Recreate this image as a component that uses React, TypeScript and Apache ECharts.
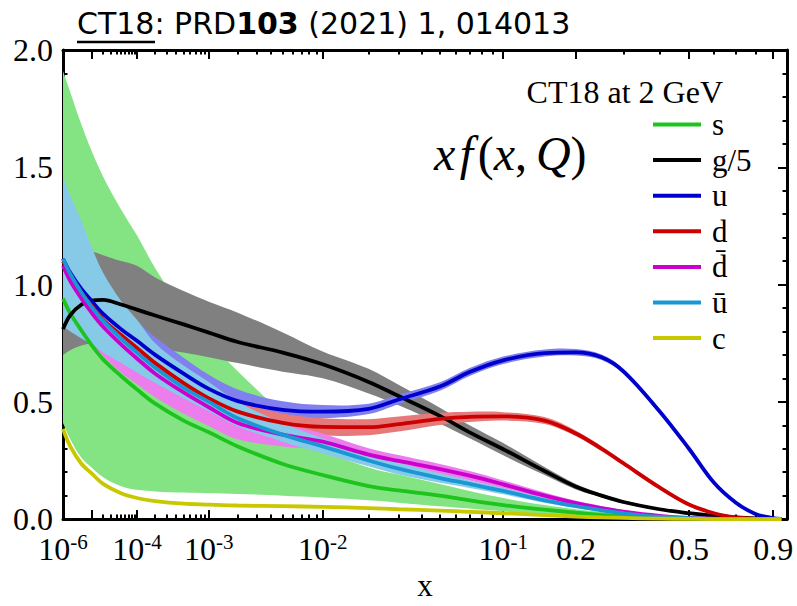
import React, { useEffect, useRef } from 'react';
import * as echarts from 'echarts';

// ---------------- data ----------------
const xValues = [1e-6, 2e-6, 5e-6, 1e-5, 2e-5, 5e-5, 1e-4, 2e-4, 5e-4, 1e-3, 2e-3, 5e-3, 1e-2, 2e-2, 3e-2, 5e-2, 7e-2, 0.1, 0.15, 0.2, 0.25, 0.3, 0.4, 0.5, 0.6, 0.7, 0.8, 0.9, 0.95];

const sCentral = [0.94, 0.877, 0.803, 0.742, 0.681, 0.61, 0.553, 0.492, 0.42, 0.37, 0.31, 0.235, 0.188, 0.141, 0.122, 0.1, 0.08, 0.06, 0.04, 0.027, 0.018, 0.012, 0.005, 0.002, 0.001, 0, 0, 0, 0];
const sUpper = [1.91, 1.82, 1.68, 1.57, 1.46, 1.32, 1.21, 1.07, 0.89, 0.76, 0.63, 0.45, 0.3, 0.22, 0.19, 0.15, 0.12, 0.09, 0.06, 0.042, 0.03, 0.02, 0.009, 0.004, 0.002, 0.001, 0, 0, 0];
const sLower = [0.41, 0.34, 0.26, 0.22, 0.178, 0.14, 0.125, 0.118, 0.113, 0.11, 0.107, 0.1, 0.092, 0.08, 0.07, 0.055, 0.045, 0.033, 0.02, 0.013, 0.008, 0.005, 0.002, 0.001, 0, 0, 0, 0, 0];

const gCentral = [0.81, 0.87, 0.915, 0.932, 0.935, 0.915, 0.893, 0.868, 0.83, 0.795, 0.755, 0.71, 0.66, 0.585, 0.525, 0.44, 0.37, 0.298, 0.205, 0.138, 0.1, 0.073, 0.042, 0.025, 0.014, 0.007, 0.003, 0.001, 0];
const gUpper = [1.1, 1.12, 1.13, 1.14, 1.125, 1.1, 1.08, 1.03, 0.972, 0.927, 0.88, 0.796, 0.715, 0.641, 0.573, 0.475, 0.4, 0.324, 0.222, 0.15, 0.108, 0.079, 0.046, 0.028, 0.016, 0.008, 0.004, 0.001, 0];
const gLower = [0.7, 0.72, 0.74, 0.75, 0.75, 0.745, 0.74, 0.73, 0.71, 0.69, 0.665, 0.628, 0.6, 0.535, 0.485, 0.407, 0.345, 0.272, 0.188, 0.126, 0.092, 0.067, 0.038, 0.022, 0.012, 0.006, 0.002, 0.001, 0];

const uCentral = [1.11, 1.05, 0.98, 0.93, 0.875, 0.81, 0.76, 0.7, 0.62, 0.555, 0.503, 0.466, 0.458, 0.47, 0.51, 0.565, 0.627, 0.677, 0.708, 0.711, 0.69, 0.63, 0.46, 0.3, 0.155, 0.07, 0.022, 0.004, 0.001];
const uError = [0.15, 0.14, 0.12, 0.11, 0.1, 0.09, 0.082, 0.075, 0.068, 0.06, 0.05, 0.036, 0.028, 0.022, 0.02, 0.018, 0.017, 0.016, 0.015, 0.014, 0.012, 0.011, 0.009, 0.007, 0.005, 0.003, 0.002, 0.001, 0];

const dCentral = [1.1, 1.04, 0.965, 0.91, 0.85, 0.785, 0.73, 0.665, 0.58, 0.515, 0.458, 0.41, 0.393, 0.392, 0.405, 0.427, 0.436, 0.438, 0.42, 0.365, 0.3, 0.238, 0.135, 0.062, 0.025, 0.007, 0.001, 0, 0];
const dError = [0.12, 0.11, 0.1, 0.09, 0.085, 0.075, 0.07, 0.06, 0.055, 0.05, 0.045, 0.04, 0.037, 0.034, 0.032, 0.026, 0.022, 0.018, 0.015, 0.012, 0.011, 0.01, 0.008, 0.006, 0.004, 0.002, 0.001, 0, 0];

const dbarCentral = [1.08, 1.015, 0.94, 0.88, 0.82, 0.745, 0.685, 0.62, 0.54, 0.477, 0.41, 0.36, 0.33, 0.275, 0.248, 0.213, 0.185, 0.148, 0.1, 0.068, 0.047, 0.032, 0.014, 0.005, 0.002, 0, 0, 0, 0];
const dbarError = [0.14, 0.14, 0.13, 0.13, 0.125, 0.12, 0.11, 0.1, 0.09, 0.08, 0.07, 0.05, 0.035, 0.027, 0.025, 0.022, 0.02, 0.017, 0.013, 0.01, 0.008, 0.006, 0.003, 0.001, 0, 0, 0, 0, 0];

const ubarCentral = [1.11, 1.045, 0.965, 0.905, 0.845, 0.77, 0.71, 0.645, 0.56, 0.5, 0.43, 0.36, 0.31, 0.25, 0.215, 0.175, 0.15, 0.12, 0.08, 0.055, 0.037, 0.025, 0.01, 0.004, 0.001, 0, 0, 0, 0];
const ubarUpper = [1.46, 1.38, 1.27, 1.16, 1.05, 0.93, 0.85, 0.75, 0.655, 0.585, 0.5, 0.41, 0.345, 0.28, 0.24, 0.195, 0.165, 0.133, 0.09, 0.062, 0.042, 0.029, 0.012, 0.005, 0.002, 0.001, 0, 0, 0];
const ubarLower = [0.82, 0.8, 0.77, 0.745, 0.71, 0.665, 0.625, 0.58, 0.515, 0.46, 0.395, 0.33, 0.28, 0.225, 0.19, 0.155, 0.133, 0.106, 0.07, 0.048, 0.032, 0.021, 0.008, 0.003, 0.001, 0, 0, 0, 0];

const cCentral = [0.385, 0.31, 0.235, 0.195, 0.15, 0.11, 0.09, 0.077, 0.066, 0.062, 0.058, 0.055, 0.052, 0.047, 0.042, 0.036, 0.031, 0.025, 0.017, 0.011, 0.007, 0.005, 0.002, 0.001, 0, 0, 0, 0, 0];

const legendNames = ['s', 'g/5', 'u', 'd', 'd\u0304', '\u016b', 'c'];
const xMajorTicks = [1e-6, 1e-5, 1e-4, 1e-3, 1e-2, 0.1, 0.2, 0.5, 0.9];
const xLabelValues = [1e-6, 1e-4, 1e-3, 1e-2, 1e-1, 0.2, 0.5, 0.9];
const xTickLabels = ['10^-6', '10^-4', '10^-3', '10^-2', '10^-1', '0.2', '0.5', '0.9'];
const xMinorTicks = [2e-5, 3e-5, 4e-5, 5e-5, 6e-5, 7e-5, 8e-5, 9e-5, 2e-4, 3e-4, 4e-4, 5e-4, 6e-4, 7e-4, 8e-4, 9e-4, 2e-3, 3e-3, 4e-3, 5e-3, 6e-3, 7e-3, 8e-3, 9e-3, 2e-2, 3e-2, 4e-2, 5e-2, 6e-2, 7e-2, 8e-2, 9e-2, 0.3, 0.4, 0.6, 0.7, 0.8];
const yMinorTicks = [0.1, 0.2, 0.3, 0.4, 0.6, 0.7, 0.8, 0.9, 1.1, 1.2, 1.3, 1.4, 1.6, 1.7, 1.8, 1.9];

// ---------------- styling ----------------
const SERIF = 'Liberation Serif';
const SANS = 'DejaVu Sans';
const T = (x: number) => Math.pow(x, 0.2); // axis is linear in x^0.2
const X_MIN = T(1e-6);
const X_MAX = 0.997;

const colors = {
  s: '#1ec31e', sBand: '#84e484',
  g: '#000000', gBand: '#808080',
  u: '#0000cc', uBand: '#8080ee',
  d: '#cc0000', dBand: '#e67a7a',
  dbar: '#cc00cc', dbarBand: '#ec7dec',
  ubar: '#1a96d4', ubarBand: '#86cae8',
  c: '#c8c800',
};

function segs(pts: number[][], s: number): string {
  const n = pts.length;
  const outC: number[][] = [];
  const inC: number[][] = [];
  for (let i = 0; i < n; i++) {
    const p = pts[i];
    const prev = pts[Math.max(i - 1, 0)];
    const next = pts[Math.min(i + 1, n - 1)];
    const vx = next[0] - prev[0];
    const vy = next[1] - prev[1];
    const d0 = Math.hypot(p[0] - prev[0], p[1] - prev[1]);
    const d1 = Math.hypot(next[0] - p[0], next[1] - p[1]);
    const sum = d0 + d1 || 1;
    outC.push([p[0] + (vx * s * d1) / sum, p[1] + (vy * s * d1) / sum]);
    inC.push([p[0] - (vx * s * d0) / sum, p[1] - (vy * s * d0) / sum]);
  }
  let d = '';
  for (let i = 0; i < n - 1; i++) {
    d += ` C${outC[i][0]},${outC[i][1]} ${inC[i + 1][0]},${inC[i + 1][1]} ${pts[i + 1][0]},${pts[i + 1][1]}`;
  }
  return d;
}

function bandSeries(name: string, lo: number[], hi: number[], color: string) {
  return {
    type: 'custom',
    name,
    coordinateSystem: 'cartesian2d',
    xAxisIndex: 0,
    yAxisIndex: 0,
    silent: true,
    data: xValues.map((x, i) => [T(x), lo[i], hi[i]]),
    encode: { x: 0, y: [1, 2] },
    renderItem: (params: any, api: any) => {
      if (params.dataIndex !== 0) return null;
      const up = xValues.map((x, i) => api.coord([T(x), hi[i]]));
      const dn = xValues.map((x, i) => api.coord([T(x), lo[i]])).reverse();
      const d = `M${up[0][0]},${up[0][1]}` + segs(up, 0.35) + ` L${dn[0][0]},${dn[0][1]}` + segs(dn, 0.35) + ' Z';
      return { type: 'path', shape: { pathData: d }, style: { fill: color, stroke: null } };
    },
  };
}

function lineSeries(name: string, vals: number[], color: string) {
  return {
    type: 'line',
    name,
    xAxisIndex: 0,
    yAxisIndex: 0,
    data: xValues.map((x, i) => [T(x), vals[i]]),
    showSymbol: false,
    symbol: 'none',
    smooth: 0.35,
    color,
    itemStyle: { color },
    lineStyle: { color, width: 3.8 },
    silent: true,
  };
}

const plus = (a: number[], b: number[]) => a.map((v, i) => v + b[i]);
const minus = (a: number[], b: number[]) => a.map((v, i) => Math.max(0, v - b[i]));

function xLabel(value: number) {
  const i = xLabelValues.findIndex((x) => Math.abs(T(x) - value) < 1e-6);
  if (i < 0) return '';
  const s = xTickLabels[i];
  if (s.includes('^')) {
    const [base, exp] = s.split('^');
    return `{b|${base}}{e|${exp}}`;
  }
  return `{b|${s}}`;
}

const axisLineStyle = { show: true, onZero: false, lineStyle: { color: '#000', width: 3 } };
const noLine = { show: false, onZero: false };

function xAxisDef(position: string, ticks: number[], len: number, major: boolean, labels: boolean) {
  return {
    type: 'value',
    position,
    min: X_MIN,
    max: X_MAX,
    axisLine: major ? axisLineStyle : noLine,
    splitLine: { show: false },
    axisTick: { show: true, inside: true, length: len, customValues: ticks.map(T), lineStyle: { color: '#000', width: 2 } },
    axisLabel: labels
      ? {
          show: true,
          customValues: xLabelValues.map(T),
          formatter: xLabel,
          margin: 12,
          rich: {
            b: { fontFamily: SERIF, fontSize: 32, color: '#000', lineHeight: 36 },
            e: { fontFamily: SERIF, fontSize: 21, color: '#000', lineHeight: 16, verticalAlign: 'top' },
          },
        }
      : { show: false },
    ...(labels
      ? {
          name: 'x',
          nameLocation: 'middle',
          nameGap: 43,
          nameTextStyle: { fontFamily: SERIF, fontSize: 31, color: '#000' },
        }
      : {}),
  };
}

function yAxisDef(position: string, major: boolean, labels: boolean) {
  return {
    type: 'value',
    position,
    min: 0,
    max: 2,
    interval: 0.5,
    axisLine: major ? axisLineStyle : noLine,
    splitLine: { show: false },
    axisTick: major
      ? { show: true, inside: true, length: 9, lineStyle: { color: '#000', width: 2 } }
      : { show: true, inside: true, length: 4.5, customValues: yMinorTicks, lineStyle: { color: '#000', width: 2 } },
    axisLabel: labels
      ? { show: true, margin: 10, fontFamily: SERIF, fontSize: 32, color: '#000', formatter: (v: number) => v.toFixed(1) }
      : { show: false },
  };
}

const option: any = {
  animation: false,
  backgroundColor: '#ffffff',
  grid: { left: 63, right: 10, top: 50, bottom: 63, containLabel: false },
  xAxis: [
    xAxisDef('bottom', xMajorTicks, 9, true, true),
    xAxisDef('bottom', xMinorTicks, 4.5, false, false),
    xAxisDef('top', xMajorTicks, 9, true, false),
    xAxisDef('top', xMinorTicks, 4.5, false, false),
  ],
  yAxis: [
    yAxisDef('left', true, true),
    yAxisDef('left', false, false),
    yAxisDef('right', true, false),
    yAxisDef('right', false, false),
  ],
  legend: {
    data: legendNames,
    orient: 'vertical',
    left: 648,
    top: 104,
    icon: 'rect',
    itemWidth: 48,
    itemHeight: 4,
    itemGap: 4.6,
    selectedMode: false,
    textStyle: { fontFamily: SERIF, fontSize: 31, color: '#000', lineHeight: 30, padding: [0, 0, 0, 6] },
  },
  graphic: [
    {
      type: 'text',
      left: 77,
      top: 8,
      style: {
        text: '{n|CT18: PRD}{b|103}{n| (2021) 1, 014013}',
        rich: {
          n: { fontFamily: SANS, fontSize: 30, color: '#000' },
          b: { fontFamily: SANS, fontSize: 30, color: '#000', fontWeight: 'bold' },
        },
      },
    },
    { type: 'line', shape: { x1: 77, y1: 42, x2: 155, y2: 42 }, style: { stroke: '#000', lineWidth: 2.5 } },
    {
      type: 'text',
      x: 723,
      y: 92,
      style: { text: 'CT18 at 2 GeV', align: 'right', verticalAlign: 'middle', fontFamily: SERIF, fontSize: 32, lineHeight: 28, fill: '#000' },
    },
    {
      type: 'text',
      x: 434,
      y: 153,
      style: {
        text: '{i|x}{s| }{i|f}{s| }{r|(}{i|x}{r|,}{s|  }{i|Q}{r|)}',
        verticalAlign: 'middle',
        rich: {
          i: { fontFamily: SERIF, fontSize: 48, fontStyle: 'italic', color: '#000' },
          r: { fontFamily: SERIF, fontSize: 48, color: '#000' },
          s: { fontFamily: SERIF, fontSize: 18, color: '#000' },
        },
      },
    },
  ],
  series: [
    bandSeries('s band', sLower, sUpper, colors.sBand),
    bandSeries('g band', gLower, gUpper, colors.gBand),
    bandSeries('u band', minus(uCentral, uError), plus(uCentral, uError), colors.uBand),
    bandSeries('d band', minus(dCentral, dError), plus(dCentral, dError), colors.dBand),
    bandSeries('dbar band', minus(dbarCentral, dbarError), plus(dbarCentral, dbarError), colors.dbarBand),
    bandSeries('ubar band', ubarLower, ubarUpper, colors.ubarBand),
    lineSeries('s', sCentral, colors.s),
    lineSeries('g/5', gCentral, colors.g),
    lineSeries('u', uCentral, colors.u),
    lineSeries('d', dCentral, colors.d),
    lineSeries('d\u0304', dbarCentral, colors.dbar),
    lineSeries('\u016b', ubarCentral, colors.ubar),
    lineSeries('c', cCentral, colors.c),
  ],
};

export default function App() {
  const ref = useRef<HTMLDivElement>(null);
  useEffect(() => {
    const chart = echarts.init(ref.current as HTMLDivElement, null, { renderer: 'svg' });
    chart.setOption(option);
    return () => chart.dispose();
  }, []);
  return (
    <div
      ref={ref}
      style={{ position: 'absolute', left: 0, top: 0, width: 797, height: 606, background: '#fff' }}
    />
  );
}
